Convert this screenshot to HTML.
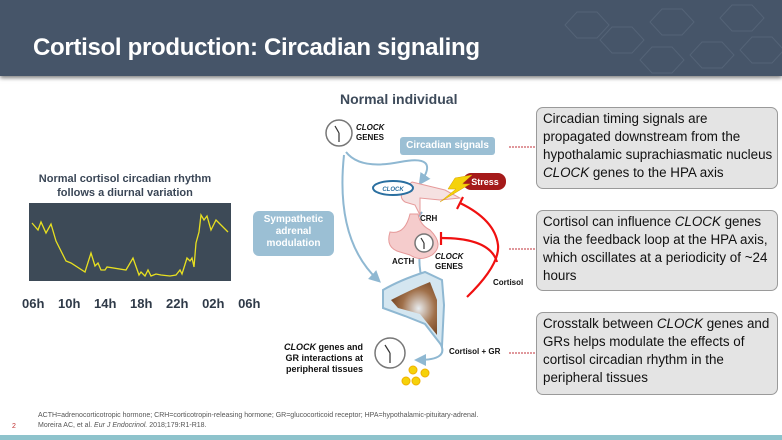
<!DOCTYPE html>
<html><head><meta charset="utf-8"><style>
body{margin:0;width:782px;height:440px;overflow:hidden;background:#fff;font-family:"Liberation Sans",sans-serif;position:relative}
.hdr{position:absolute;left:0;top:0;width:782px;height:76px;background:#465569;box-shadow:0 2px 4px rgba(0,0,0,.5)}
.hdr h1{position:absolute;left:33px;top:34px;margin:0;color:#fff;font-size:24px;font-weight:bold;letter-spacing:-0.3px}
.box{position:absolute;left:536px;width:234px;background:#e4e4e4;border:1.5px solid #9a9a9a;border-radius:7px;font-size:13.4px;line-height:18px;color:#111;padding:0 0 0 6px;white-space:nowrap;overflow:hidden}
.t{position:absolute;font-weight:bold;color:#111}
</style></head><body>
<div class="hdr"><h1>Cortisol production: Circadian signaling</h1>
<svg width="782" height="76" style="position:absolute;left:0;top:0" fill="none" stroke="#8896a8" stroke-opacity=".22" stroke-width="1">
<path d="M565 25l12-13h20l12 13-12 13h-20z M600 40l12-13h20l12 13-12 13h-20z M650 22l12-13h20l12 13-12 13h-20z M690 55l12-13h20l12 13-12 13h-20z M720 18l12-13h20l12 13-12 13h-20z M740 50l12-13h20l12 13-12 13h-20z M640 60l12-13h20l12 13-12 13h-20z"/></svg>
</div>
<div class="t" style="left:0;width:250px;top:172px;text-align:center;font-size:11px;line-height:14px;color:#3a4656">Normal cortisol circadian rhythm<br>follows a diurnal variation</div>
<svg style="position:absolute;left:29px;top:203px" width="202" height="78"><rect width="202" height="78" fill="#3d4a57"/>
<polyline fill="none" stroke="#e8e020" stroke-width="1.3" points="3,20 9,27 12,19 17,30 22,21 27,38 37,58 42,60 56,69 62,50 66,63 69,60 72,67 76,67 78,64 97,67 104,55 110,72 112,69 116,73 119,67 122,73 127,71 132,72 141,73 147,72 151,67 153,71 158,55 161,58 163,55 165,64 167,40 170,29 172,12 175,17 178,13 182,27 187,17 199,29"/>
</svg>
<div class="t" style="left:22px;top:296px;font-size:13px;color:#2f3a48;word-spacing:10px">06h 10h 14h 18h 22h 02h 06h</div>

<div class="t" style="left:340px;top:91px;font-size:14px;color:#3d4a5a">Normal individual</div>
<svg style="position:absolute;left:0;top:0" width="782" height="440">
<defs><marker id="a" markerWidth="6" markerHeight="6" refX="4" refY="3" orient="auto"><path d="M0,0L6,3L0,6z" fill="#8fb8d2"/></marker>
<radialGradient id="br" cx=".6" cy=".5" r=".6"><stop offset="0" stop-color="#e8ecef"/><stop offset=".6" stop-color="#a0704a"/><stop offset="1" stop-color="#7a4a28"/></radialGradient></defs>
<g fill="none" stroke="#8fb8d2" stroke-width="2">
<path d="M346 152Q360 170 400 162T421 182" marker-end="url(#a)"/>
<path d="M344 155Q335 240 378 280" marker-end="url(#a)"/>
<path d="M422 212L412 225" marker-end="url(#a)"/>
<path d="M421 250Q417 260 423 285" marker-end="url(#a)"/>
<path d="M440 343Q450 360 418 360" marker-end="url(#a)"/>
</g>
<path d="M412 182L445 190L460 198L440 200L420 198L420 215L415 205L405 202Q395 195 412 182z" fill="#f5e1e1" stroke="#e69a9a"/>
<path d="M410 214Q405 235 390 232Q385 248 400 252L410 255Q420 262 432 255Q445 245 430 230Q420 225 418 214z" fill="#f5cccc" stroke="#e69a9a"/>
<ellipse cx="393" cy="188" rx="20" ry="7" fill="#fff" stroke="#2a6fa0" stroke-width="2"/>
<text x="393" y="191" font-size="6" font-weight="bold" font-style="italic" fill="#2a6fa0" text-anchor="middle">CLOCK</text>
<path d="M383 290Q400 280 425 272L442 280L444 305L442 346L425 324L405 316L383 308z" fill="#d4e6f0" stroke="#8fb8d2" stroke-width="2"/>
<path d="M391 300Q410 290 430 282L437 300L437 335L420 314L398 308z" fill="url(#br)"/>
<rect x="463" y="173" width="43" height="17" rx="8" fill="#a51a1a"/>
<text x="485" y="185" font-size="9" font-weight="bold" fill="#fff" text-anchor="middle">Stress</text>
<path d="M455 178L472 175L462 184L470 184L440 202L456 189L448 189z" fill="#f5d20a" stroke="#d8a000" stroke-width=".5"/>
<g fill="none" stroke="#f01010" stroke-width="2.2">
<path d="M467 297Q500 265 498 245Q495 220 460 203"/>
<path d="M457 209L463 197"/>
<path d="M497 262Q490 238 441 238"/>
<path d="M441 232L441 245"/>
</g>
<g stroke="#c0303a" stroke-width="1" stroke-dasharray="2,1"><path d="M509 147H535M509 249H535M509 353H535"/></g>
<g fill="#fff" stroke="#777" stroke-width="1.5">
<circle cx="339" cy="133" r="13"/><circle cx="424" cy="243" r="9"/><circle cx="390" cy="353" r="15"/></g>
<g stroke="#333" stroke-width="1.2"><path d="M339 133L335 126M339 133V142M424 243L421 238M424 243V249M390 353L385 345M390 353V363"/></g>
<g fill="#f5d20a" stroke="#f0b000"><circle cx="413" cy="370" r="4"/><circle cx="425" cy="373" r="4"/><circle cx="406" cy="381" r="4"/><circle cx="416" cy="381" r="4"/></g>
</svg>
<div class="t" style="left:356px;top:123px;font-size:8px;line-height:10px"><i>CLOCK</i><br>GENES</div>
<div style="position:absolute;left:400px;top:137px;width:95px;height:18px;background:#9bbfd4;border-radius:3px;color:#fff;font-weight:bold;font-size:10px;line-height:18px;text-align:center">Circadian signals</div>
<div style="position:absolute;left:253px;top:211px;width:81px;height:45px;background:#9bbfd4;border-radius:6px;color:#fff;font-weight:bold;font-size:10px;line-height:12px;text-align:center;padding-top:3px;box-sizing:border-box">Sympathetic<br>adrenal<br>modulation</div>
<div class="t" style="left:420px;top:214px;font-size:8px">CRH</div>
<div class="t" style="left:392px;top:257px;font-size:8px">ACTH</div>
<div class="t" style="left:435px;top:252px;font-size:8px;line-height:10px"><i>CLOCK</i><br>GENES</div>
<div class="t" style="left:493px;top:278px;font-size:8px">Cortisol</div>
<div class="t" style="left:449px;top:347px;font-size:8px">Cortisol + GR</div>
<div class="t" style="left:263px;top:342px;width:100px;text-align:right;font-size:9px;line-height:11px"><i>CLOCK</i> genes and<br>GR interactions at<br>peripheral tissues</div>

<div class="box" style="top:107px;height:78px;padding-top:2px">Circadian timing signals are<br>propagated downstream from the<br>hypothalamic suprachiasmatic nucleus<br><i>CLOCK</i> genes to the HPA axis</div>
<div class="box" style="top:210px;height:77px;padding-top:2px">Cortisol can influence <i>CLOCK</i> genes<br>via the feedback loop at the HPA axis,<br>which oscillates at a periodicity of ~24<br>hours</div>
<div class="box" style="top:312px;height:79px;padding-top:2px">Crosstalk between <i>CLOCK</i> genes and<br>GRs helps modulate the effects of<br>cortisol circadian rhythm in the<br>peripheral tissues</div>

<div style="position:absolute;left:12px;top:423px;font-size:7px;color:#c03030">2</div>
<div style="position:absolute;left:38px;top:411px;font-size:7px;line-height:10px;color:#555">ACTH=adrenocorticotropic hormone; CRH=corticotropin-releasing hormone; GR=glucocorticoid receptor; HPA=hypothalamic-pituitary-adrenal.<br>Moreira AC, et al. <i>Eur J Endocrinol.</i> 2018;179:R1-R18.</div>
<div style="position:absolute;left:0;top:435px;width:782px;height:5px;background:#8ec3cc"></div>
</body></html>
